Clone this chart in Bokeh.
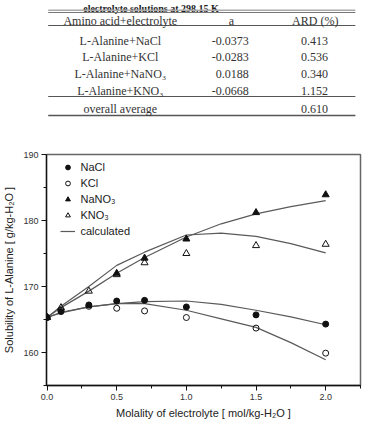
from bokeh.plotting import figure
from bokeh.layouts import column
from bokeh.models import (ColumnDataSource, Range1d, FixedTicker, Legend,
                          LegendItem, NumeralTickFormatter)
from bokeh.core.properties import value
from bokeh.embed import file_html
from bokeh.resources import INLINE

# ---------------- table data ----------------
table_title = "electrolyte solutions at 298.15 K"
table_headers = ["Amino acid+electrolyte", "a", "ARD (%)"]
systems = ["L-Alanine+NaCl", "L-Alanine+KCl", "L-Alanine+NaNO\u2083", "L-Alanine+KNO\u2083"]
param_a = [-0.0373, -0.0283, 0.0188, -0.0668]
ard_pct = [0.413, 0.536, 0.340, 1.152]
overall_label = "overall average"
overall_ard = 0.610

# ---------------- chart data ----------------
molality = [0.0, 0.1, 0.3, 0.5, 0.7, 1.0, 1.5, 2.0]
sol_nacl = [165.3, 166.2, 167.2, 167.8, 167.9, 166.9, 165.7, 164.3]
sol_kcl = [165.3, 166.4, 167.0, 166.7, 166.3, 165.3, 163.7, 159.9]
molality_nano3 = [0.0, 0.5, 0.7, 1.0, 1.5, 2.0]
sol_nano3 = [165.3, 172.0, 174.3, 177.2, 181.2, 183.9]
sol_kno3 = [165.3, 166.8, 169.3, 171.8, 173.6, 175.0, 176.2, 176.4]

calc_molality = [0.0, 0.1, 0.3, 0.5, 0.7, 1.0, 1.25, 1.5, 1.75, 2.0]
calc_nacl = [165.3, 166.0, 166.9, 167.4, 167.7, 167.8, 167.3, 166.4, 165.4, 164.2]
calc_kcl = [165.3, 166.1, 166.9, 167.4, 167.4, 166.4, 165.1, 163.8, 161.5, 158.9]
calc_nano3 = [165.3, 166.8, 169.3, 172.0, 174.4, 177.5, 179.5, 181.0, 182.1, 183.0]
calc_kno3 = [165.3, 167.0, 170.0, 173.2, 175.2, 177.8, 178.1, 177.6, 176.5, 175.1]

x_ticks = [0.0, 0.5, 1.0, 1.5, 2.0]
x_minor = [0.25, 0.75, 1.25, 1.75, 2.25]
y_ticks = [160, 170, 180, 190]
y_minor = [155, 165, 175, 185]

SERIF = "Liberation Serif"
SANS = "Liberation Sans"

# ---------------- table figure ----------------
W = 368
TH = 140
t = figure(width=W, height=TH, x_range=Range1d(0, W), y_range=Range1d(TH, 0),
           output_backend="svg", toolbar_location=None, min_border=0,
           x_axis_location=None, y_axis_location=None)
t.outline_line_color = None
t.xgrid.visible = False
t.ygrid.visible = False

# title (at the very top)
t.text(x=[43], y=[7.8], text=[table_title], text_font=value(SERIF),
       text_font_size="10px", text_font_style="bold", text_color="#222",
       text_baseline="alphabetic", text_align="left")

# rules
t.segment(x0=[2, 2], x1=[362, 362], y0=[9.8, 12], y1=[9.8, 12],
          line_color=["#aaaaaa", "#777777"], line_width=[1.6, 1.2])
t.segment(x0=[2, 2, 2], x1=[362, 362, 362], y0=[25, 96, 115], y1=[25, 96, 115],
          line_color="#555555", line_width=[1, 1, 1.5])

# header
hdr = ColumnDataSource(dict(x=[86.5, 216.7, 315], y=[20.5, 20.5, 20.5], t=table_headers))
t.text(x="x", y="y", text="t", source=hdr, text_font=value(SERIF),
       text_font_size="12px", text_color="#333", text_align="center",
       text_baseline="alphabetic")

row_y = [40, 56.7, 73.4, 90.1]
rows = ColumnDataSource(dict(
    y=row_y, sys=systems,
    a=["%.4f" % v for v in param_a],
    ard=["%.3f" % v for v in ard_pct]))
t.text(x=86.5, y="y", text="sys", source=rows, text_font=value(SERIF),
       text_font_size="12px", text_color="#333", text_align="center",
       text_baseline="alphabetic")
t.text(x=237, y="y", text="a", source=rows, text_font=value(SERIF),
       text_font_size="12px", text_color="#333", text_align="right",
       text_baseline="alphabetic")
t.text(x=314, y="y", text="ard", source=rows, text_font=value(SERIF),
       text_font_size="12px", text_color="#333", text_align="center",
       text_baseline="alphabetic")
t.text(x=[86.5, 314], y=[108, 108], text=[overall_label, "%.3f" % overall_ard],
       text_font=value(SERIF), text_font_size="12px", text_color="#333",
       text_align="center", text_baseline="alphabetic")

# ---------------- chart figure ----------------
CH = 422 - TH
p = figure(width=W, height=CH, x_range=Range1d(-0.004, 2.25), y_range=Range1d(155, 190),
           output_backend="svg", toolbar_location=None,
           min_border_left=43, min_border_right=8, min_border_top=14, min_border_bottom=37)
p.xgrid.visible = False
p.ygrid.visible = False
p.outline_line_color = "#666666"
p.outline_line_width = 1.5

for ax in (p.xaxis[0], p.yaxis[0]):
    ax.axis_line_color = "#111"
    ax.axis_line_width = 1.3
    ax.major_tick_line_color = "#111"
    ax.minor_tick_line_color = "#111"
    ax.major_tick_out = 5
    ax.major_tick_in = 0
    ax.minor_tick_out = 3
    ax.minor_tick_in = 0
    ax.major_label_text_font = SANS
    ax.major_label_text_font_size = "9px"
    ax.major_label_text_color = "#333"
    ax.major_label_standoff = 3
    ax.axis_label_text_font = SANS
    ax.axis_label_text_font_size = "11px"
    ax.axis_label_text_font_style = "normal"
    ax.axis_label_text_color = "#222"

p.xaxis.ticker = FixedTicker(ticks=x_ticks, minor_ticks=x_minor)
p.yaxis.ticker = FixedTicker(ticks=y_ticks, minor_ticks=y_minor)
p.xaxis.formatter = NumeralTickFormatter(format="0.0")
p.xaxis.axis_label = "Molality of electrolyte [ mol/kg-H\u2082O ]"
p.yaxis.axis_label = "Solubility of L-Alanine [ g/kg-H\u2082O ]"
p.xaxis.axis_label_standoff = 4
p.yaxis.axis_label_standoff = 5

line_kw = dict(line_color="#5a5a5a", line_width=1.2)
l1 = p.line(calc_molality, calc_nacl, **line_kw)
p.line(calc_molality, calc_kcl, **line_kw)
p.line(calc_molality, calc_nano3, **line_kw)
p.line(calc_molality, calc_kno3, **line_kw)

r_kcl = p.scatter(molality, sol_kcl, marker="circle", size=6, fill_color=None,
                  line_color="#111", line_width=1)
r_kno3 = p.scatter(molality, sol_kno3, marker="triangle", size=7, fill_color=None,
                   line_color="#111", line_width=1)
r_nacl = p.scatter(molality, sol_nacl, marker="circle", size=6, fill_color="#111",
                   line_color="#111")
r_nano3 = p.scatter(molality_nano3, sol_nano3, marker="triangle", size=7,
                    fill_color="#111", line_color="#111")

legend = Legend(items=[
    LegendItem(label="NaCl", renderers=[r_nacl]),
    LegendItem(label="KCl", renderers=[r_kcl]),
    LegendItem(label="NaNO\u2083", renderers=[r_nano3]),
    LegendItem(label="KNO\u2083", renderers=[r_kno3]),
    LegendItem(label="calculated", renderers=[l1]),
], location=(13.5, 148))
legend.label_text_font = SANS
legend.label_text_font_size = "11px"
legend.label_text_color = "#222"
legend.background_fill_alpha = 0
legend.border_line_alpha = 0
legend.glyph_width = 15
legend.glyph_height = 12
legend.label_height = 12
legend.spacing = 4
legend.label_standoff = 6
legend.padding = 0
legend.margin = 0
p.add_layout(legend, "center")

layout = column(t, p, spacing=0)
open("out.html", "w").write(file_html(layout, INLINE))
